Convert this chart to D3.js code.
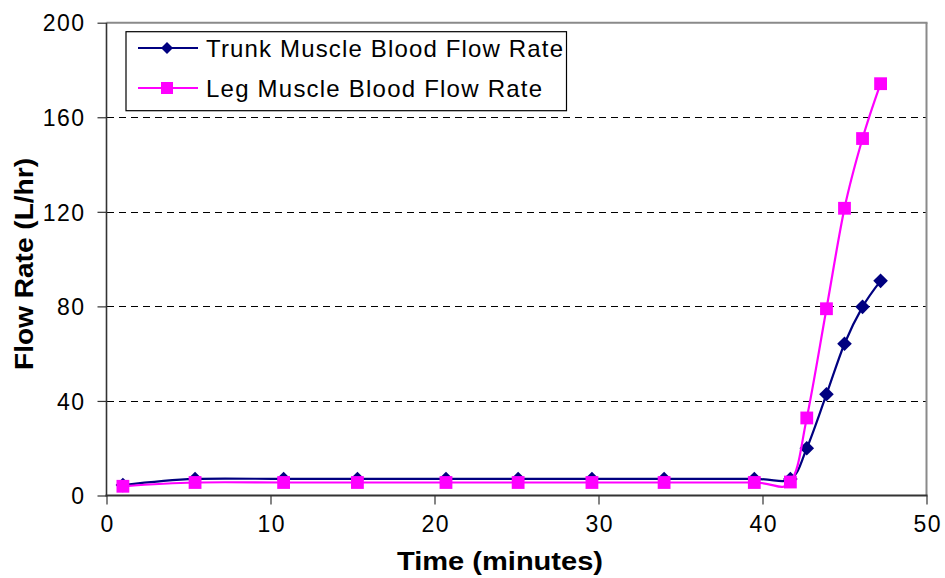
<!DOCTYPE html>
<html>
<head>
<meta charset="utf-8">
<script src="https://cdn.jsdelivr.net/npm/d3@7"></script>
<style>
  html, body { margin: 0; padding: 0; background: #fff; }
  svg { display: block; font-family: "Liberation Sans", Arial, sans-serif; }
</style>
</head>
<body>
<svg id="chart" width="945" height="578"></svg>
<script>
// Sample times (minutes)
const times = [1.0, 5.4, 10.8, 15.3, 20.7, 25.1, 29.6, 34.0, 39.5, 41.7, 42.7, 43.9, 45.0, 46.1, 47.2];
// Flow rates (L/hr)
const trunkFlow = [4.4, 7.0, 7.0, 7.0, 7.0, 7.0, 7.0, 7.0, 7.0, 7.0, 20.0, 42.8, 64.2, 79.8, 90.8];
const legFlow   = [3.9, 5.5, 5.5, 5.5, 5.5, 5.5, 5.5, 5.5, 5.5, 5.7, 32.8, 79.0, 121.5, 151.0, 174.2];
const seriesNames = ["Trunk Muscle Blood Flow Rate", "Leg Muscle Blood Flow Rate"];
const xTicks = [0, 10, 20, 30, 40, 50];
const yTicks = [0, 40, 80, 120, 160, 200];

const svg = d3.select("#chart");
const plotL = 106.5, plotR = 926.5, plotT = 22.7, plotB = 495.5;

const x = d3.scaleLinear().domain([0, 50]).range([plotL, plotR]);
const y = d3.scaleLinear().domain([0, 200]).range([plotB, plotT]);

// Dashed horizontal gridlines, snapped to the pixel grid
svg.append("g")
  .selectAll("line")
  .data(yTicks.filter(v => v > 0 && v < 200))
  .join("line")
  .attr("x1", plotL).attr("x2", plotR)
  .attr("y1", d => Math.round(y(d)) + 0.5).attr("y2", d => Math.round(y(d)) + 0.5)
  .attr("stroke", "#000").attr("stroke-width", 1)
  .attr("shape-rendering", "crispEdges")
  .attr("stroke-dasharray", "7,5");

// Plot frame: top and right edges
svg.append("line").attr("x1", plotL).attr("x2", plotR + 1).attr("y1", plotT).attr("y2", plotT)
  .attr("stroke", "#8a8a8a").attr("stroke-width", 2);
svg.append("line").attr("x1", plotR).attr("x2", plotR).attr("y1", plotT).attr("y2", plotB)
  .attr("stroke", "#8a8a8a").attr("stroke-width", 2);

// Y axis
const yAxis = svg.append("g")
  .attr("transform", `translate(${plotL},0)`)
  .call(d3.axisLeft(y).tickValues(yTicks).tickSize(9).tickPadding(12).tickFormat(d3.format("d")));
yAxis.select(".domain").attr("stroke", "#333").attr("stroke-width", 1.6).attr("d", `M0,${plotT}V${plotB + 1}`);
yAxis.selectAll(".tick line").attr("stroke", "#333").attr("stroke-width", 1.2);
yAxis.selectAll(".tick text")
  .attr("font-size", 23).attr("fill", "#000")
  .attr("font-family", "Liberation Sans, Arial, sans-serif")
  .attr("letter-spacing", "1.5px")
  .attr("dy", "0.36em");

// X axis
const xAxis = svg.append("g")
  .attr("transform", `translate(0,${plotB})`)
  .call(d3.axisBottom(x).tickValues(xTicks).tickSize(9).tickPadding(23).tickFormat(d3.format("d")));
xAxis.select(".domain").attr("stroke", "#333").attr("stroke-width", 2).attr("d", `M${plotL - 1},0H${plotR + 1}`);
xAxis.selectAll(".tick line").attr("stroke", "#333").attr("stroke-width", 1.2);
xAxis.selectAll(".tick text")
  .attr("font-size", 23).attr("fill", "#000")
  .attr("font-family", "Liberation Sans, Arial, sans-serif")
  .attr("letter-spacing", "1.5px")
  .attr("dx", "0.75px")
  .attr("dy", "0.2em");

// Axis titles
svg.append("text")
  .attr("x", 500).attr("y", 570)
  .attr("text-anchor", "middle")
  .attr("font-size", 26).attr("font-weight", "bold")
  .attr("textLength", 206).attr("lengthAdjust", "spacingAndGlyphs")
  .text("Time (minutes)");
svg.append("text")
  .attr("transform", "translate(32.5,264) rotate(-90)")
  .attr("text-anchor", "middle")
  .attr("font-size", 26).attr("font-weight", "bold")
  .attr("textLength", 212).attr("lengthAdjust", "spacingAndGlyphs")
  .text("Flow Rate (L/hr)");

// Series
const series = [
  { name: seriesNames[0], values: trunkFlow, color: "#000080", shape: "diamond" },
  { name: seriesNames[1], values: legFlow,   color: "#ff00ff", shape: "square" }
];

const line = d3.line()
  .x(d => x(d[0])).y(d => y(d[1]))
  .curve(d3.curveCardinal.tension(0));

function markerPath(shape, cx, cy, r) {
  if (shape === "diamond") {
    return `M${cx},${cy - r}L${cx + r},${cy}L${cx},${cy + r}L${cx - r},${cy}Z`;
  }
  return `M${cx - r},${cy - r}H${cx + r}V${cy + r}H${cx - r}Z`;
}

series.forEach(s => {
  const pts = times.map((t, i) => [t, s.values[i]]);
  const g = svg.append("g");
  g.append("path")
    .attr("d", line(pts))
    .attr("fill", "none")
    .attr("stroke", s.color)
    .attr("stroke-width", 2.2);
  g.selectAll("path.mk")
    .data(pts)
    .join("path")
    .attr("class", "mk")
    .attr("d", d => markerPath(s.shape, x(d[0]), y(d[1]), s.shape === "diamond" ? 7.3 : 6.4))
    .attr("fill", s.color);
});

// Legend
const legend = svg.append("g");
legend.append("rect")
  .attr("x", 126).attr("y", 31.7).attr("width", 440.5).attr("height", 79)
  .attr("fill", "#fff").attr("stroke", "#000").attr("stroke-width", 1.2);

const legendRows = [
  { s: series[0], cy: 48, len: 357 },
  { s: series[1], cy: 88, len: 336 }
];
legendRows.forEach(r => {
  legend.append("line")
    .attr("x1", 138).attr("x2", 198).attr("y1", r.cy).attr("y2", r.cy)
    .attr("stroke", r.s.color).attr("stroke-width", 2);
  legend.append("path")
    .attr("d", markerPath(r.s.shape, 167, r.cy, 6))
    .attr("fill", r.s.color);
  legend.append("text")
    .attr("x", 206).attr("y", r.cy + 8.7)
    .attr("font-size", 24)
    .attr("textLength", r.len).attr("lengthAdjust", "spacing")
    .text(r.s.name);
});
</script>
</body>
</html>
